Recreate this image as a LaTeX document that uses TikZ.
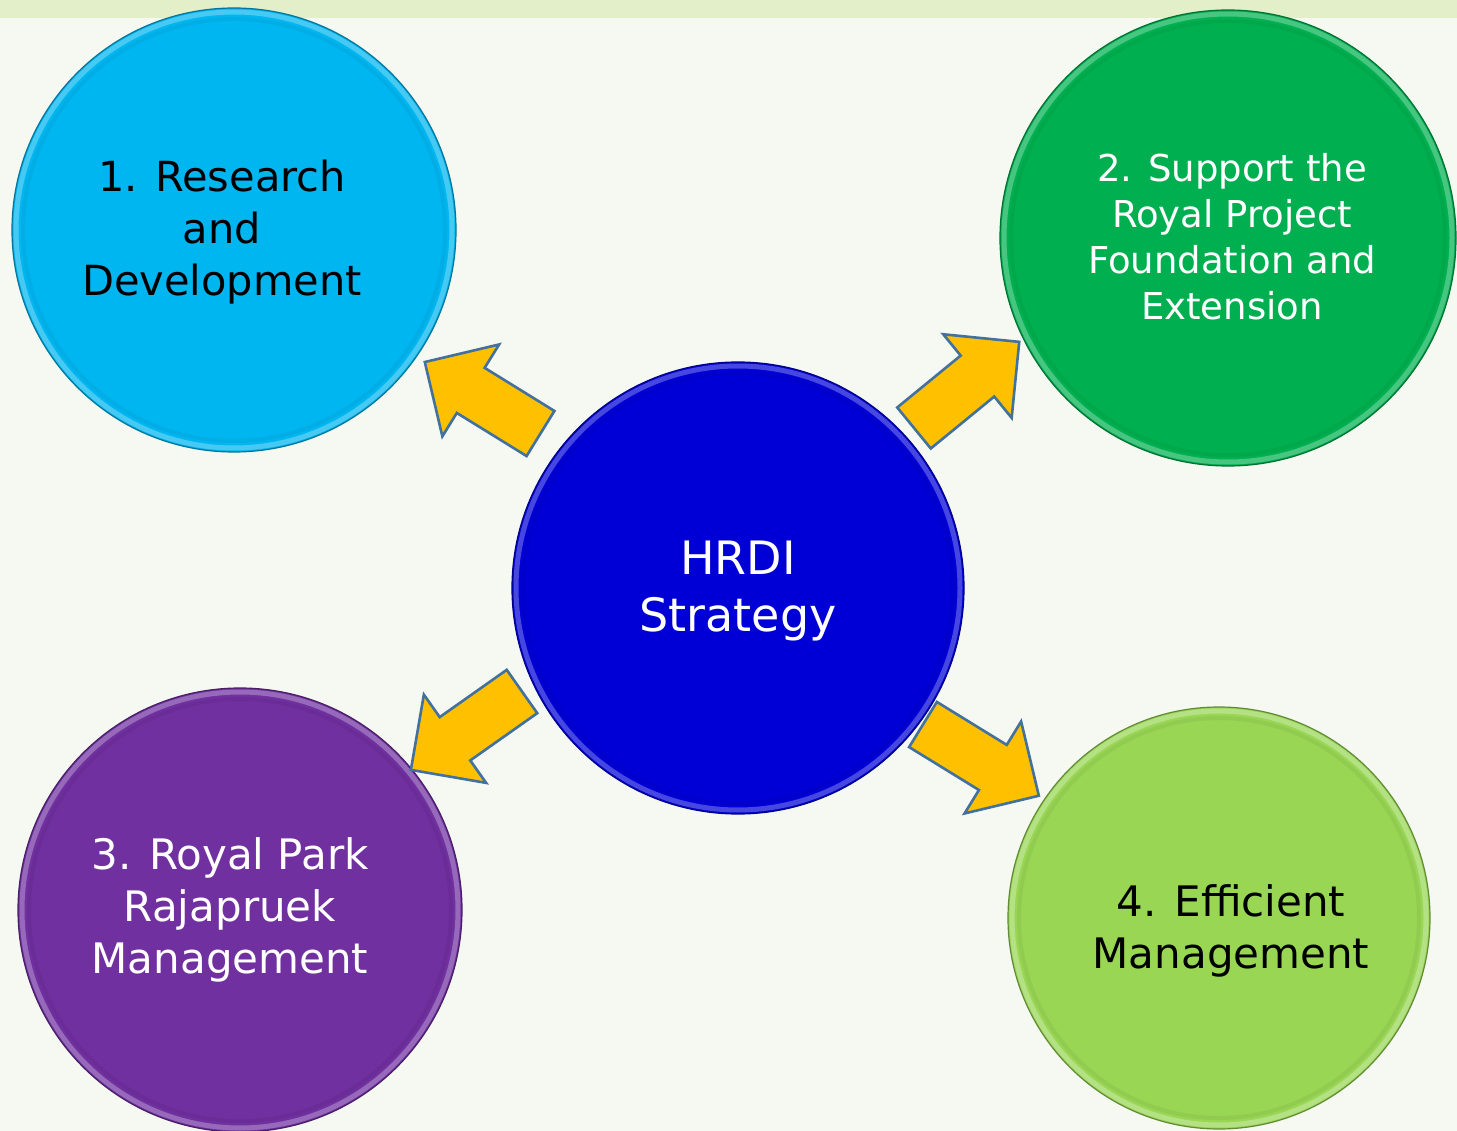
\documentclass[tikz,border=0pt]{standalone}
\usepackage{fontspec}
\setmainfont{DejaVu Sans}
\usetikzlibrary{calc}

\definecolor{pagebg}{HTML}{F5F9F1}
\definecolor{topband}{HTML}{E3EFC8}
\definecolor{cResearch}{HTML}{00B6F0}
\definecolor{cSupport}{HTML}{00B050}
\definecolor{cHub}{HTML}{0000D6}
\definecolor{cPark}{HTML}{7030A0}
\definecolor{cEfficient}{HTML}{98D654}
\definecolor{arrowfill}{HTML}{FFC000}
\definecolor{arrowline}{HTML}{41719C}

% a bevelled disc: name, centre, radius, colour
\newcommand\ballnode[4]{%
  \node[ball=#4, minimum size=2*#3] (#1) at (#2) {};
  \draw[#4!45!white, line width=5pt, opacity=0.5] (#1.center) circle[radius=#3-4];
  \draw[#4!70!black, line width=4pt, opacity=0.15] (#1.center) circle[radius=#3-11];
  \draw[#4!65!black, line width=1.2pt] (#1.center) circle[radius=#3];
}

\tikzset{
  ball/.style={circle, fill=#1, inner sep=0pt},
  caption/.style={align=center, inner sep=0pt},
  blockarrow/.pic={
    \draw[fill=arrowfill, draw=arrowline, line width=2.6pt, line join=miter]
      (0,-26.5) -- (82,-26.5) -- (82,-54) -- (136,0) -- (82,54) -- (82,26.5) -- (0,26.5) -- cycle;
  }
}

\begin{document}
\begin{tikzpicture}[x=1pt, y=-1pt]
  \useasboundingbox (0,0) rectangle (1457,1131);
  \fill[pagebg] (0,0) rectangle (1457,1131);
  \fill[topband] (0,0) rectangle (1457,18);

  % the five discs
  \ballnode{rd}{234,230}{222}{cResearch}
  \ballnode{rp}{1228,238}{228}{cSupport}
  \ballnode{park}{240,910}{222}{cPark}
  \ballnode{eff}{1219,918}{211}{cEfficient}
  \ballnode{hub}{738,588}{226}{cHub}

  % block arrows from the hub outwards
  \pic[rotate=148.3] at (540.5,433.5) {blockarrow};
  \pic[rotate=39.3]  at (914,428)     {blockarrow};
  \pic[rotate=215.2] at (522,691.5)   {blockarrow};
  \pic[rotate=-31.6] at (923,724.5)   {blockarrow};

  % captions
  \node[caption, text=black, font=\fontsize{41.5}{52}\selectfont] (trd) at (222,232)
    {1. Research\\and\\Development};
  \node[caption, text=white, font=\fontsize{37}{46}\selectfont] (trp) at (1232,237)
    {2. Support the\\Royal Project\\Foundation and\\Extension};
  \node[caption, text=white, font=\fontsize{46}{57}\selectfont] (thub) at (738,591)
    {HRDI\\Strategy};
  \node[caption, text=white, font=\fontsize{42}{52}\selectfont] (tpark) at (230,910)
    {3. Royal Park\\Rajapruek\\Management};
  \node[caption, text=black, font=\fontsize{42}{52}\selectfont] (teff) at (1231,931)
    {4. Efficient\\Management};
\end{tikzpicture}
\end{document}
